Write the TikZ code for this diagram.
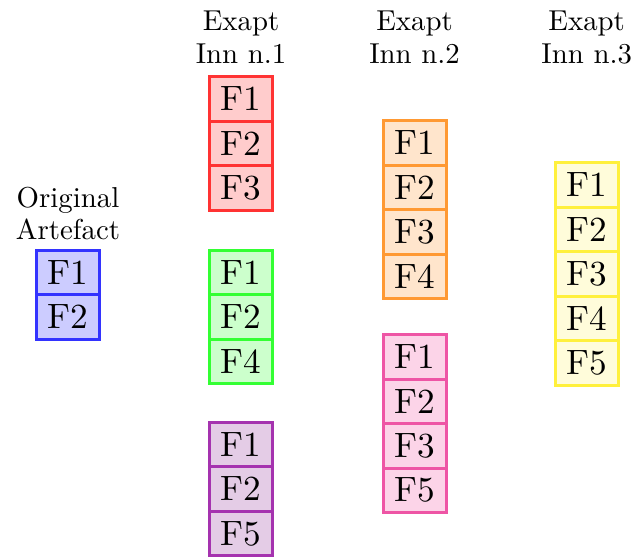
\documentclass[tikz,border=0pt]{standalone}
\usepackage{fontspec}
\setmainfont{lmroman10-regular}[Extension=.otf]
\usetikzlibrary{positioning}

% border / fill colours of the feature stacks
\definecolor{bluedraw}{RGB}{51,51,255}   \definecolor{bluefill}{RGB}{204,204,255}
\definecolor{reddraw}{RGB}{255,51,51}    \definecolor{redfill}{RGB}{255,204,204}
\definecolor{greendraw}{RGB}{51,255,51}  \definecolor{greenfill}{RGB}{204,255,204}
\definecolor{violetdraw}{RGB}{165,51,175}\definecolor{violetfill}{RGB}{228,204,230}
\definecolor{orangedraw}{RGB}{255,153,51}\definecolor{orangefill}{RGB}{255,229,204}
\definecolor{pinkdraw}{RGB}{238,85,165}  \definecolor{pinkfill}{RGB}{252,212,232}
\definecolor{yellowdraw}{RGB}{255,240,60}\definecolor{yellowfill}{RGB}{255,252,218}

\tikzset{
  feat/.style={rectangle, draw=#1draw, fill=#1fill, line width=1.5pt,
    minimum width=31.5pt, minimum height=22.25pt, inner sep=0pt, outer sep=0pt,
    font=\fontsize{17.6}{20}\selectfont},
  lbl/.style={align=center, inner sep=0pt, anchor=north,
    font=\fontsize{14.4}{16.1}\selectfont},
}

\begin{document}
\begin{tikzpicture}[x=0.5pt, y=-0.5pt]
  \useasboundingbox (0,0) rectangle (638,558);

  % column headings
  \node[lbl] (lo) at (68,186.5)  {Original\\Artefact};
  \node[lbl] (l1) at (241,11)  {Exapt\\Inn n.1};
  \node[lbl] (l2) at (414.5,11) {Exapt\\Inn n.2};
  \node[lbl] (l3) at (586.7,11) {Exapt\\Inn n.3};

  % original artefact
  \foreach \t [count=\i] in {F1,F2}
    \node[feat=blue] (b\i) at (68,250+44.5*\i-22.25) {\t};

  % exaptive innovation 1
  \foreach \t [count=\i] in {F1,F2,F3}
    \node[feat=red] (r\i) at (241,76.5+44.5*\i-22.25) {\t};
  \foreach \t [count=\i] in {F1,F2,F4}
    \node[feat=green] (g\i) at (241,250+44.5*\i-22.25) {\t};
  \foreach \t [count=\i] in {F1,F2,F5}
    \node[feat=violet] (v\i) at (241,422.2+44.5*\i-22.25) {\t};

  % exaptive innovation 2
  \foreach \t [count=\i] in {F1,F2,F3,F4}
    \node[feat=orange] (o\i) at (414.5,120.5+44.5*\i-22.25) {\t};
  \foreach \t [count=\i] in {F1,F2,F3,F5}
    \node[feat=pink] (p\i) at (414.5,334.5+44.5*\i-22.25) {\t};

  % exaptive innovation 3
  \foreach \t [count=\i] in {F1,F2,F3,F4,F5}
    \node[feat=yellow] (y\i) at (586.7,162.5+44.5*\i-22.25) {\t};
\end{tikzpicture}
\end{document}
